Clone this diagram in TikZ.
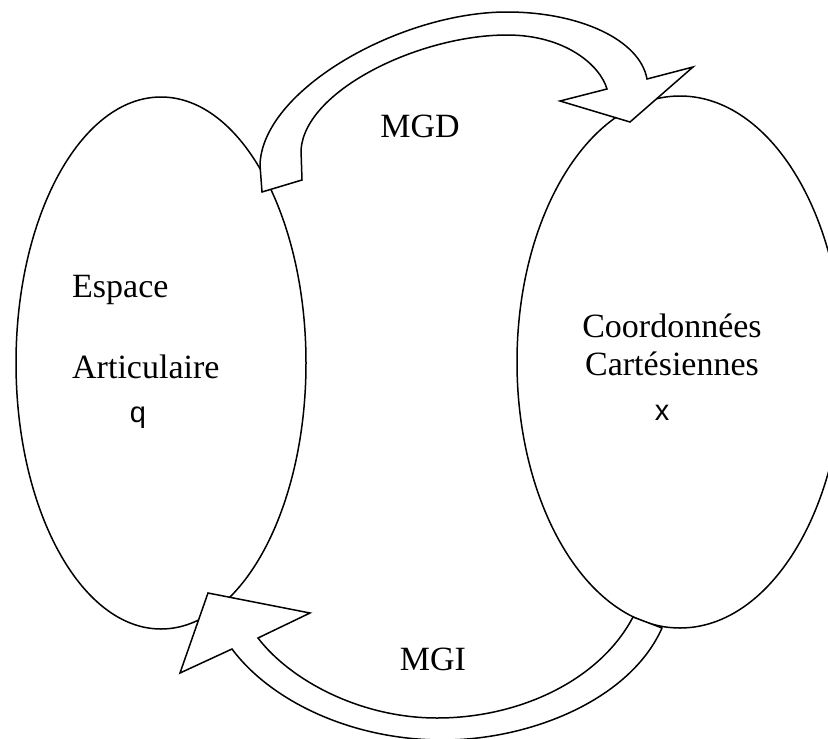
\documentclass[tikz,border=0pt]{standalone}
\usepackage{fontspec}
\setmainfont{Liberation Serif}
\newfontfamily\labelsans{Liberation Sans}
\usetikzlibrary{shapes.geometric}
\begin{document}
\begin{tikzpicture}[x=1pt,y=-1pt,
  space/.style={ellipse, draw, line width=1.5pt, inner sep=0pt},
  blockarrow/.style={draw, fill=white, line width=1.5pt, line join=miter},
  lbl/.style={inner sep=0pt, font=\fontsize{34}{40}\selectfont},
  var/.style={inner sep=0pt, font=\labelsans\fontsize{29}{34}\selectfont}]
\useasboundingbox (0,0) rectangle (828,739);
\clip (0,0) rectangle (828,739);

% the two spaces
\node[space, minimum width=290pt, minimum height=532pt] (joint) at (161,363) {};
\node[space, minimum width=326pt, minimum height=532pt] (cart) at (680,362) {};

% MGD: curved block arrow from the joint space to the Cartesian space
\filldraw[blockarrow] (262,192) -- (302,180) -- (301,150)
  .. controls (305,90) and (420,35) .. (507,35)
  .. controls (565,35) and (600,65) .. (607,89)
  -- (560,101) -- (630,122) -- (693,67) -- (647,79)
  .. controls (640,40) and (580,12) .. (507,12)
  .. controls (400,12) and (262,90) .. (260,165)
  -- cycle;

% MGI: curved block arrow back to the joint space
\filldraw[blockarrow] (633,617) -- (662,628)
  .. controls (630,700) and (530,740) .. (443,740)
  .. controls (350,740) and (270,700) .. (232,649)
  -- (180,673) -- (208,593) -- (310,613) -- (258,638)
  .. controls (290,680) and (360,718) .. (437,718)
  .. controls (520,718) and (600,680) .. (633,617)
  -- cycle;

% labels
\node[lbl, anchor=base west] (espace) at (72,297) {Espace};
\node[lbl, anchor=base west] (artic) at (72,378) {Articulaire};
\node[var, anchor=base] (q) at (138,422) {q};
\node[lbl, anchor=base] (coord) at (672,337) {Coordonnées};
\node[lbl, anchor=base] (cartes) at (672,375) {Cartésiennes};
\node[var, anchor=base] (x) at (662,420) {x};
\node[lbl, anchor=base] (mgd) at (420,137) {MGD};
\node[lbl, anchor=base] (mgi) at (433,670) {MGI};
\end{tikzpicture}
\end{document}
